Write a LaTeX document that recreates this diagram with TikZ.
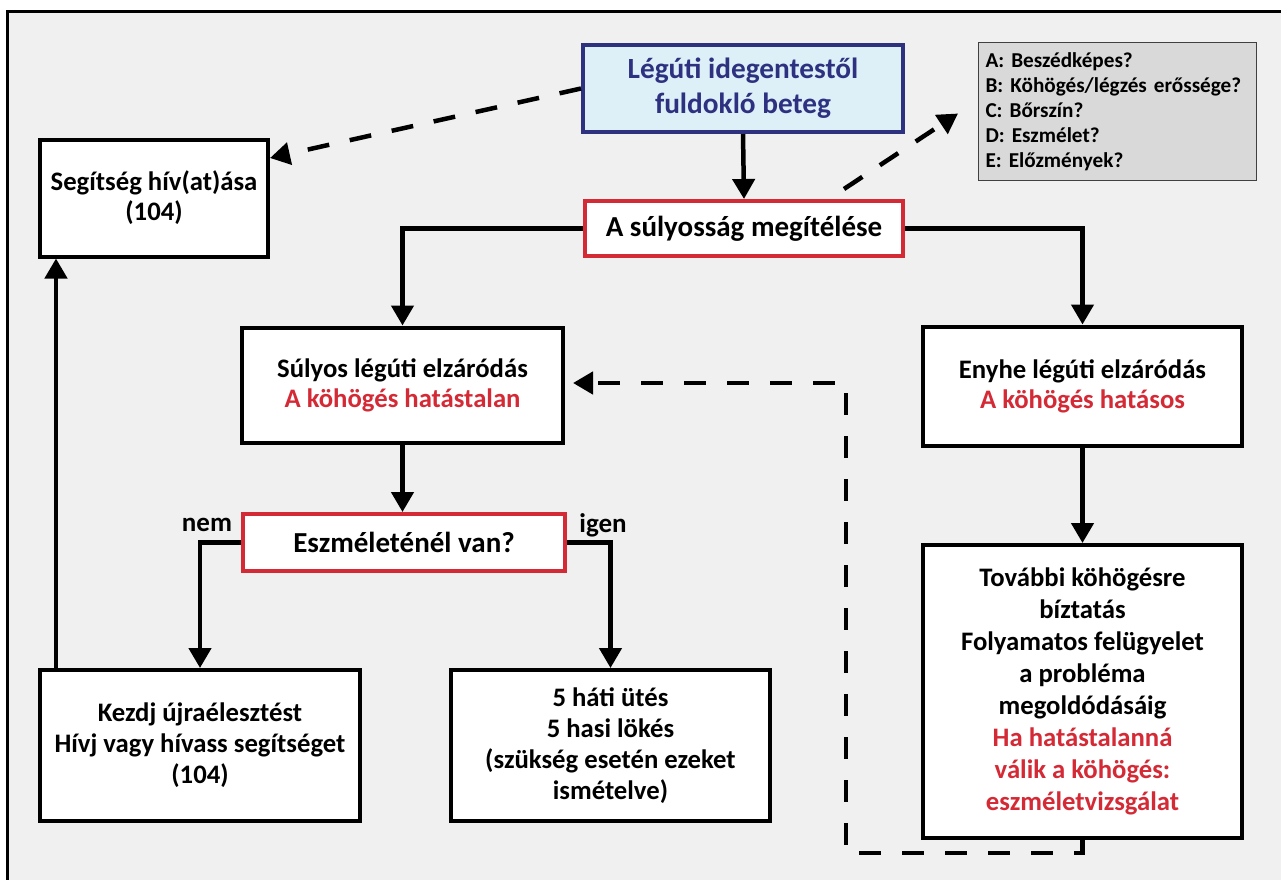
\documentclass[tikz,border=0pt]{standalone}
\usepackage{fontspec}
\setmainfont{Carlito}
\usetikzlibrary{arrows.meta,calc}
\definecolor{bg}{HTML}{F0F0F0}
\definecolor{navy}{HTML}{2E3180}
\definecolor{lblue}{HTML}{DDF0F7}
\definecolor{myred}{HTML}{D42A36}
\definecolor{gfill}{HTML}{D9D9D9}
\definecolor{gline}{HTML}{404040}
\tikzset{
  box/.style={draw=black, line width=4pt, fill=white, align=center, font=\bfseries\fontsize{26.7}{31}\selectfont, inner sep=2pt},
  redbox/.style={box, draw=myred, font=\bfseries\fontsize{29}{33}\selectfont},
  arr/.style={line width=4.5pt, -{Triangle[length=20pt,width=22pt]}},
  dasharr/.style={arr, dash pattern=on 22pt off 21pt},
  lbl/.style={font=\bfseries\fontsize{27}{30}\selectfont}
}
\begin{document}
\begin{tikzpicture}[x=1pt,y=-1pt]
\useasboundingbox (0,0) rectangle (1281,879);
\clip (0,0) rectangle (1281,879);
\fill[white] (0,0) rectangle (1281,879);
\fill[bg] (7,11) rectangle (1300,900);
\draw[line width=3pt] (7,900) -- (7,11) -- (1300,11);

\node[box, draw=navy, fill=lblue, text=navy, minimum width=320pt, minimum height=87pt, font=\bfseries\fontsize{29.3}{35}\selectfont] (top) at (743,88.5) {Légúti idegentestől\\fuldokló beteg};
\node[draw=gline, line width=1pt, fill=gfill, align=left, anchor=center, minimum width=278pt, minimum height=138pt, text width=264pt, inner sep=0pt, font=\bfseries\fontsize{21.2}{25}\selectfont] (gray) at (1117.5,111.5) {A:\ Beszédképes?\\B:\ Köhögés/légzés erőssége?\\C:\ Bőrszín?\\D:\ Eszmélet?\\E:\ Előzmények?};
\node[box, minimum width=228pt, minimum height=117pt, font=\bfseries\fontsize{26.7}{30}\selectfont] (segitseg) at (154,198) {Segítség hív(at)ása\\(104)};
\node[redbox, minimum width=318pt, minimum height=55pt] (sul) at (744,228.5) {A súlyosság megítélése};
\node[box, minimum width=321pt, minimum height=115pt, font=\bfseries\fontsize{26.7}{30}\selectfont] (sulyos) at (402.5,385) {Súlyos légúti elzáródás\\\textcolor{myred}{A köhögés hatástalan}};
\node[box, minimum width=319pt, minimum height=119pt, font=\bfseries\fontsize{26.7}{30}\selectfont] (enyhe) at (1082.5,386) {Enyhe légúti elzáródás\\\textcolor{myred}{A köhögés hatásos}};
\node[redbox, minimum width=322pt, minimum height=57pt] (eszm) at (404,542.5) {Eszméleténél van?};
\node[box, minimum width=320pt, minimum height=151pt] (kezdj) at (200,745.5) {Kezdj újraélesztést\\Hívj vagy hívass segítséget\\(104)};
\node[box, minimum width=319pt, minimum height=151pt] (hati) at (610.5,745.5) {5 háti ütés\\5 hasi lökés\\(szükség esetén ezeket\\ismételve)};
\node[box, minimum width=319pt, minimum height=293pt, font=\bfseries\fontsize{26.7}{32}\selectfont] (tovabbi) at (1082.5,691.5) {További köhögésre\\bíztatás\\Folyamatos felügyelet\\a probléma\\megoldódásáig\\\textcolor{myred}{Ha hatástalanná}\\\textcolor{myred}{válik a köhögés:}\\\textcolor{myred}{eszméletvizsgálat}};

\node[lbl] (nem) at (207,525) {nem};
\node[lbl] (igen) at (603,525) {igen};

\draw[arr] (top.south) -- (sul.north);
\draw[dasharr] (top.west) -- ([yshift=40pt]segitseg.east);
\draw[dasharr] ([xshift=100pt,yshift=10pt]sul.north) -- ([xshift=-20pt,yshift=-2pt]gray.west);
\draw[arr] (sul.west) -| (sulyos.north);
\draw[arr] (sul.east) -| (enyhe.north);
\draw[arr] (sulyos.south) -- (sulyos.south |- eszm.north);
\draw[arr] (eszm.west) -| (kezdj.north);
\draw[arr] (eszm.east) -| (hati.north);
\draw[arr] ([xshift=18pt]kezdj.north west) -- ([xshift=18pt]segitseg.south west);
\draw[arr] (enyhe.south) -- (tovabbi.north);
\coordinate (fb) at (846,853);
\draw[dasharr] (tovabbi.south) |- (fb) |- ([xshift=8pt,yshift=2pt]sulyos.east);
\end{tikzpicture}
\end{document}
